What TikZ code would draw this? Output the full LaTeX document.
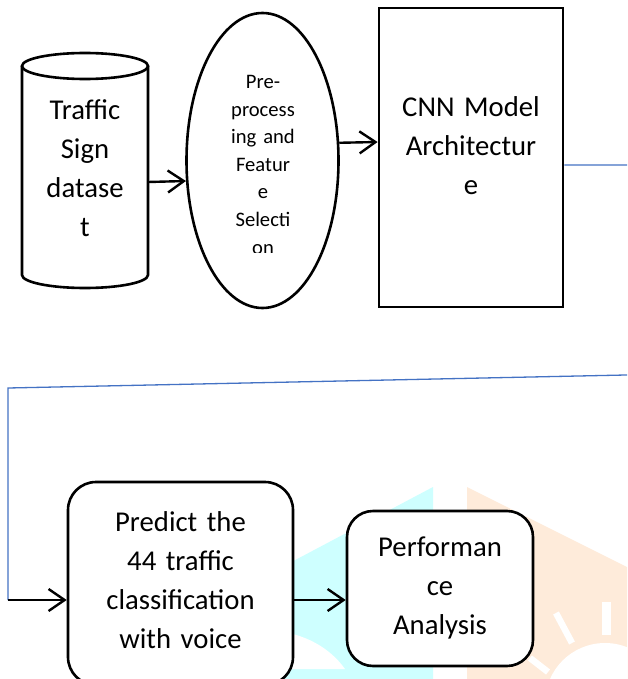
\documentclass[tikz,border=0pt]{standalone}
\usepackage{fontspec}
\setmainfont{Carlito}
\usetikzlibrary{shapes.geometric,arrows.meta,calc}
\definecolor{wmcyan}{RGB}{206,255,255}
\definecolor{wmpeach}{RGB}{254,235,218}
\definecolor{linkblue}{RGB}{68,114,196}
\begin{document}
\begin{tikzpicture}[x=1pt,y=-1pt,
  shapeline/.style={draw=black,line width=2.6pt},
  arr/.style={line width=2.4pt,-{Straight Barb[length=16pt,width=22pt,line width=2.4pt]}},
  blueline/.style={draw=linkblue,line width=1.3pt},
  bigtext/.style={font=\fontsize{28.7}{39}\selectfont,text width=220pt,align=center,anchor=base,inner sep=0pt},
  smalltext/.style={font=\fontsize{20.6}{27.5}\selectfont,text width=150pt,align=center,anchor=base,inner sep=0pt},
]
\useasboundingbox (0,0) rectangle (627,679);
\clip (0,0) rectangle (627,679);
\fill[white] (0,0) rectangle (627,679);
% watermark
\fill[wmcyan] (433,487) -- (433,679) -- (250,679) -- (250,584) -- cycle;
\fill[white] (270,630) .. controls (305,633) and (330,648) .. (345,669) -- (270,669) -- cycle;
\fill[wmpeach] (467,487) -- (627,567) -- (627,679) -- (467,679) -- cycle;
\fill[white] (605,703) circle[radius=60pt];
\fill[white] (602,602) rectangle (611,635);
\draw[white,line width=6.5pt] (556,613) -- (572,643);
\draw[white,line width=6.5pt] (530,658) -- (548,672);
% cylinder
\node[minimum width=126pt,minimum height=235pt,inner sep=0pt] (cyl) at (85,170.5) {};
\draw[shapeline,fill=white] (22,66) -- (22,275) arc[start angle=180,end angle=360,x radius=63pt,y radius=13pt] -- (148,66);
\draw[shapeline,fill=white] (85,66) ellipse[x radius=63pt,y radius=13pt];
\node[bigtext] (t1) at (85,120) {Traffic\\Sign\\datase\\t};
% ellipse
\node[ellipse,shapeline,fill=white,minimum width=152pt,minimum height=295pt,inner sep=0pt] (pre) at (262.5,160.5) {};
\begin{scope}
\clip (180,0) rectangle (345,252);
\node[smalltext] (t2) at (263,89) {Pre-\\process\\ing and\\Featur\\e\\Selecti\\on};
\end{scope}
% CNN box
\node[draw=black,line width=2.8pt,fill=white,minimum width=184pt,minimum height=299pt,inner sep=0pt] (cnn) at (471,157.5) {};
\node[bigtext] (t3) at (471,116.5) {CNN Model\\Architectur\\e};
% lower boxes
\node[shapeline,fill=white,rounded corners=28pt,minimum width=225pt,minimum height=203pt,inner sep=0pt] (pred) at (180.5,583.5) {};
\node[bigtext] (t4) at (180.5,531) {Predict the\\44 traffic\\classification\\with voice};
\node[shapeline,fill=white,rounded corners=26pt,minimum width=186pt,minimum height=155pt,inner sep=0pt] (perf) at (440,588.5) {};
\node[bigtext] (t5) at (440,556) {Performan\\ce\\Analysis};
% connectors
\coordinate (r1) at (640,165);
\coordinate (r2) at (640,374.7);
\coordinate (l1) at (8,388);
\coordinate (l2) at (8,600);
\draw[arr] ([yshift=-11.5pt]cyl.east) -- (pre.195.96);
\draw[arr] (pre.13.79) -- ([yshift=15.5pt]cnn.west);
\draw[blueline] ([yshift=-7.5pt]cnn.east) -- (r1) -- (r2) -- (l1) -- (l2);
\draw[arr] (l2) -- ([yshift=-16.5pt]pred.west);
\draw[arr] ([yshift=-16.5pt]pred.east) -- ([yshift=-11.5pt]perf.west);
\end{tikzpicture}
\end{document}
